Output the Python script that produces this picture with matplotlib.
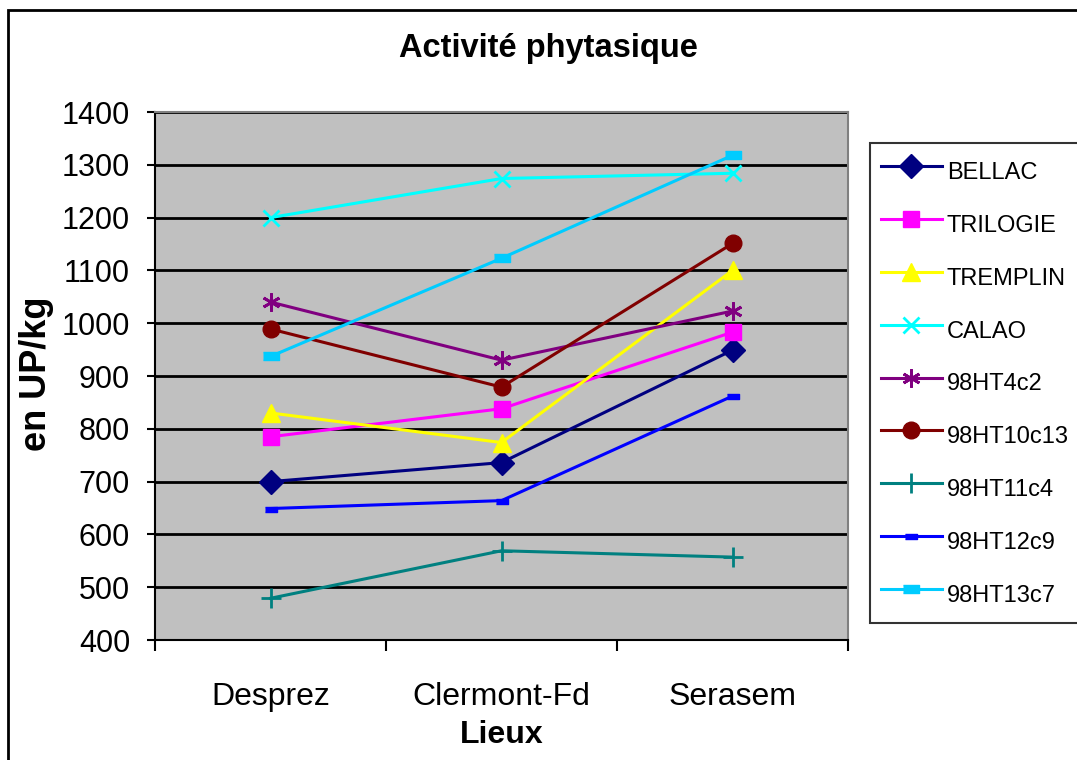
"""Activité phytasique par lieu (courbes par variété)."""

import matplotlib
matplotlib.use("Agg")
import matplotlib.pyplot as plt
from matplotlib.patches import Rectangle

plt.rcParams["font.family"] = ["Liberation Sans", "DejaVu Sans"]

lieux = ["Desprez", "Clermont-Fd", "Serasem"]
bellac = [700, 736, 949]
trilogie = [785, 838, 983]
tremplin = [830, 774, 1100]
calao = [1200, 1274, 1284]
ht4c2 = [1040, 930, 1023]
ht10c13 = [989, 879, 1151]
ht11c4 = [479, 569, 557]
ht12c9 = [649, 664, 862]
ht13c7 = [937, 1123, 1318]

rect_small = [(-1, -0.45), (1, -0.45), (1, 0.45), (-1, 0.45)]

series = [
    ("BELLAC", bellac, "#000080", "D", 12),
    ("TRILOGIE", trilogie, "#FF00FF", "s", 11),
    ("TREMPLIN", tremplin, "#FFFF00", "^", 13),
    ("CALAO", calao, "#00FFFF", "x", 12),
    ("98HT4c2", ht4c2, "#800080", (6, 2, 0), 13),
    ("98HT10c13", ht10c13, "#800000", "o", 12),
    ("98HT11c4", ht11c4, "#008080", "+", 14),
    ("98HT12c9", ht12c9, "#0000FF", rect_small, 8),
    ("98HT13c7", ht13c7, "#00CCFF", rect_small, 12),
]

fig = plt.figure(figsize=(10.77, 7.6), dpi=100)
fig.patches.append(Rectangle((8 / 1077, -0.05), 1.1, 1 - 10 / 760 + 0.05,
                             transform=fig.transFigure, fill=False,
                             edgecolor="black", linewidth=2))

ax = fig.add_axes([155 / 1077, 120 / 760, 693 / 1077, 528 / 760])
ax.set_facecolor("#C0C0C0")
x = list(range(len(lieux)))
for name, vals, color, marker, ms in series:
    ax.plot(x, vals, color=color, linewidth=2.2, marker=marker, markersize=ms,
            markeredgewidth=2 if marker in ("x", "+", (6, 2, 0)) else 1,
            markeredgecolor=color, label=name)

ax.set_ylim(400, 1400)
ax.set_yticks(range(400, 1401, 100))
ax.set_xlim(-0.5, 2.5)
ax.set_xticks([-0.5, 0.5, 1.5, 2.5])
ax.set_xticklabels([])
ax.set_xticks(x, minor=True)
ax.set_xticklabels(lieux, minor=True, fontsize=23)
ax.tick_params(axis="x", which="minor", length=0, pad=30)
ax.tick_params(axis="x", which="major", length=8, width=1.5)
ax.tick_params(axis="y", length=6, width=1.5, labelsize=22, pad=12)
ax.yaxis.grid(True, color="black", linewidth=2)
ax.set_axisbelow(True)
for side in ("left", "bottom"):
    ax.spines[side].set_color("black")
    ax.spines[side].set_linewidth(1.5)
for side in ("top", "right"):
    ax.spines[side].set_color("#808080")
    ax.spines[side].set_linewidth(1.5)

fig.text(548 / 1077, 1 - 48 / 760, "Activité phytasique", fontsize=23.5,
         fontweight="bold", ha="center", va="center")
fig.text(502 / 1077, 1 - 735 / 760, "Lieux", fontsize=23,
         fontweight="bold", ha="center", va="center")
fig.text(37 / 1077, 1 - 374 / 760, "en UP/kg", fontsize=26,
         fontweight="bold", ha="center", va="center", rotation=90)

leg = fig.legend(loc="upper left", bbox_to_anchor=(870 / 1077, 1 - 143 / 760),
                 fontsize=17, frameon=True, fancybox=False, handlelength=2.6,
                 handleheight=2.0, handletextpad=0.2, labelspacing=0.69,
                 borderpad=0.45, borderaxespad=0)
leg.get_frame().set_edgecolor("black")
leg.get_frame().set_linewidth(1.5)

fig.savefig("out.png", dpi=100)
